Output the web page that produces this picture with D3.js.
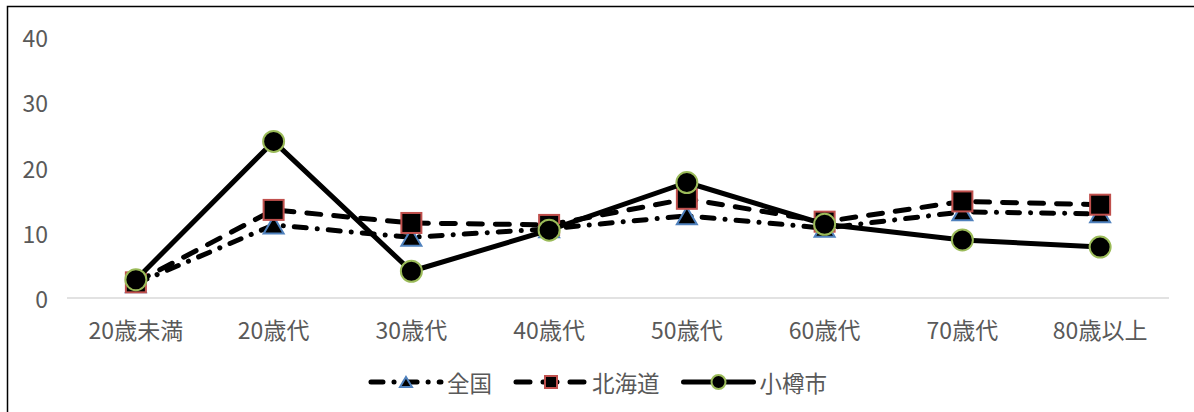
<!DOCTYPE html>
<html>
<head>
<meta charset="utf-8">
<script src="https://cdn.jsdelivr.net/npm/d3@7"></script>
<style>
  html, body { margin: 0; padding: 0; background: #fff; }
  svg { display: block; }
  text { font-family: "Noto Sans CJK JP", "Noto Sans", sans-serif; fill: #595959; }
</style>
</head>
<body>
<svg id="chart" width="1194" height="412"></svg>
<script>
const categories = ["20歳未満", "20歳代", "30歳代", "40歳代", "50歳代", "60歳代", "70歳代", "80歳以上"];
const zenkoku   = [2.2, 11.2, 9.3, 10.6, 12.6, 10.7, 13.2, 12.9];
const hokkaido  = [2.4, 13.5, 11.5, 11.2, 15.2, 11.7, 14.8, 14.3];
const otaru     = [2.8, 24.0, 4.1, 10.4, 17.7, 11.3, 8.9, 7.8];
const yTicks    = [0, 10, 20, 30, 40];
const seriesNames = ["全国", "北海道", "小樽市"];

const series = [
  { name: seriesNames[0], values: zenkoku,  dash: "12,11,0.1,11", marker: "triangle", stroke: "#4f81bd" },
  { name: seriesNames[1], values: hokkaido, dash: "14,13",        marker: "square",   stroke: "#c0504d" },
  { name: seriesNames[2], values: otaru,    dash: null,           marker: "circle",   stroke: "#9bbb59" }
];

const svg = d3.select("#chart");

// outer border (only left/top visible in frame)
svg.append("rect")
  .attr("x", 7.5).attr("y", 6.5)
  .attr("width", 1220).attr("height", 430)
  .attr("fill", "none").attr("stroke", "#000").attr("stroke-width", 1.5);

const x = d3.scaleBand().domain(categories).range([67, 1169]);
const y = d3.scaleLinear().domain([0, 40]).range([298, 37]);
const cx = d => x(d) + x.bandwidth() / 2;

// y tick labels
svg.append("g").selectAll("text").data(yTicks).join("text")
  .attr("x", 48).attr("y", d => y(d))
  .attr("text-anchor", "end").attr("dominant-baseline", "central")
  .attr("font-size", 23).text(d => d);

// x axis line
svg.append("line")
  .attr("x1", 67).attr("x2", 1169)
  .attr("y1", y(0)).attr("y2", y(0))
  .attr("stroke", "#d9d9d9").attr("stroke-width", 1.5);

// x labels
svg.append("g").selectAll("text").data(categories).join("text")
  .attr("x", d => cx(d)).attr("y", 329)
  .attr("text-anchor", "middle").attr("dominant-baseline", "central")
  .attr("font-size", 23).text(d => d);

function drawMarker(g, type, px, py, size, stroke) {
  if (type === "circle") {
    g.append("circle").attr("cx", px).attr("cy", py).attr("r", size / 2)
      .attr("fill", "#000").attr("stroke", stroke).attr("stroke-width", 2);
  } else if (type === "square") {
    g.append("rect").attr("x", px - size / 2).attr("y", py - size / 2)
      .attr("width", size).attr("height", size)
      .attr("fill", "#000").attr("stroke", stroke).attr("stroke-width", 2);
  } else {
    const h = size * 0.85;
    g.append("path")
      .attr("d", `M${px},${py - h / 2} L${px + size / 2},${py + h / 2} L${px - size / 2},${py + h / 2} Z`)
      .attr("fill", "#000").attr("stroke", stroke).attr("stroke-width", 2)
      .attr("stroke-linejoin", "miter");
  }
}

const line = d3.line().x((d, i) => cx(categories[i])).y(d => y(d));

series.forEach(s => {
  const g = svg.append("g");
  g.append("path").datum(s.values)
    .attr("d", line)
    .attr("fill", "none").attr("stroke", "#000").attr("stroke-width", 5)
    .attr("stroke-linecap", "round").attr("stroke-linejoin", "round")
    .attr("stroke-dasharray", s.dash);
  s.values.forEach((v, i) => {
    drawMarker(g, s.marker, cx(categories[i]), y(v), s.marker === "circle" ? 21 : 20, s.stroke);
  });
});

// legend
const legend = svg.append("g");
const sampleW = 70, textGap = 6, itemGap = 24, ly = 382;
let items = [];
series.forEach(s => {
  const g = legend.append("g");
  g.append("line").attr("x1", 0).attr("x2", sampleW).attr("y1", ly).attr("y2", ly)
    .attr("stroke", "#000").attr("stroke-width", 5)
    .attr("stroke-linecap", "round").attr("stroke-dasharray", s.dash);
  drawMarker(g, s.marker, sampleW / 2, ly, s.marker === "circle" ? 14 : 12, s.stroke);
  const t = g.append("text").attr("x", sampleW + textGap).attr("y", ly)
    .attr("dominant-baseline", "central").attr("font-size", 22.5).text(s.name);
  const w = sampleW + textGap + t.node().getComputedTextLength();
  items.push({ g, w });
});
const total = d3.sum(items, d => d.w) + itemGap * (items.length - 1);
let start = 599 - total / 2;
items.forEach(it => {
  it.g.attr("transform", `translate(${start},0)`);
  start += it.w + itemGap;
});
</script>
</body>
</html>
